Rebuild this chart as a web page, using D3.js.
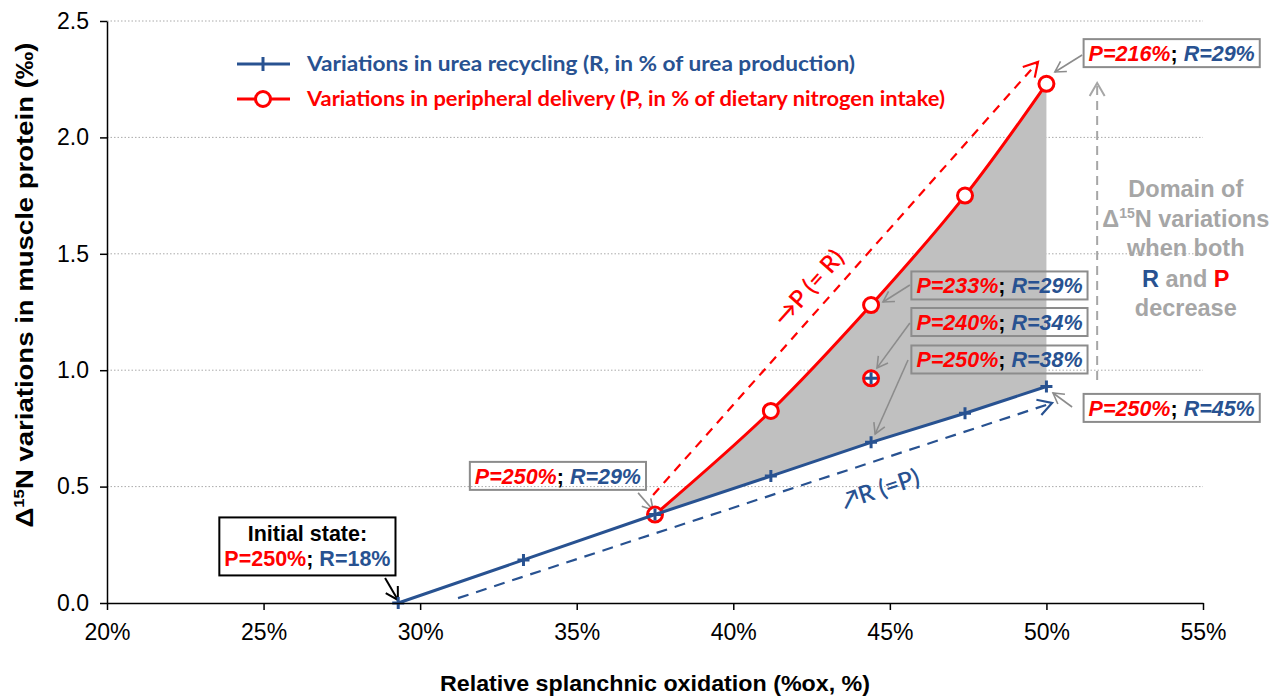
<!DOCTYPE html>
<html>
<head>
<meta charset="utf-8">
<script src="https://cdn.jsdelivr.net/npm/d3@7"></script>
<style>
  body { margin: 0; background: #fff; }
  svg { display: block; }
</style>
</head>
<body>
<svg id="chart"></svg>
<script>
// data (x: %ox, y: per mille)
const rX = [29.3, 33.3, 37.5, 41.2, 44.4, 47.4, 50.0];
const rY = [0.0, 0.185, 0.38, 0.545, 0.69, 0.815, 0.93];
const pX = [37.5, 41.2, 44.4, 47.4, 50.0];
const pY = [0.38, 0.825, 1.28, 1.75, 2.23];
const mixX = [44.4];
const mixY = [0.965];
const xTicks = [20, 25, 30, 35, 40, 45, 50, 55];
const yTicks = [0, 0.5, 1.0, 1.5, 2.0, 2.5];

// annotation labels: P value, R value, anchor (data units), arrow from -> to (data units)
const noteP = ["216%", "233%", "240%", "250%", "250%", "250%"];
const noteR = ["29%", "29%", "34%", "38%", "45%", "29%"];
const noteAt = [[54.0, 2.362], [48.5, 1.364], [48.5, 1.207], [48.5, 1.046], [54.0, 0.838], [34.4, 0.546]];
const noteFrom = [[51.14, 2.354], [45.64, 1.366], [45.64, 1.203], [45.58, 1.044], [50.82, 0.842], [36.96, 0.473]];
const noteTo = [[50.27, 2.281], [44.78, 1.293], [44.59, 1.010], [44.53, 0.726], [50.21, 0.902], [37.44, 0.399]];

const blue = "#285291";
const red = "#ff0000";
const grey = "#a6a6a6";

const width = 1282, height = 699;
const svg = d3.select("#chart").attr("width", width).attr("height", height);

const x = d3.scaleLinear().domain([20, 55]).range([107, 1203]);
const y = d3.scaleLinear().domain([0, 2.5]).range([603, 21]);

const rPts = rX.map((d, i) => [d, rY[i]]);
const pPts = pX.map((d, i) => [d, pY[i]]);

// gridlines
svg.append("g")
    .selectAll("line")
    .data(yTicks.slice(1))
    .join("line")
    .attr("x1", x(20)).attr("x2", x(55))
    .attr("y1", d => y(d)).attr("y2", d => y(d))
    .attr("stroke", "#aaa")
    .attr("stroke-width", 1)
    .attr("stroke-dasharray", "1.5,2");

// shaded domain between the two curves
const redLine = d3.line().x(d => x(d[0])).y(d => y(d[1])).curve(d3.curveCatmullRom);
const blueSeg = rPts.filter(d => d[0] >= pX[0]).reverse();
svg.append("path")
    .attr("d", redLine(pPts) + blueSeg.map(d => "L" + x(d[0]) + "," + y(d[1])).join("") + "Z")
    .attr("fill", "#c0c0c0");

// chevron arrow head
function chevron(g, x1, y1, x2, y2, color, size, sw) {
    const a = Math.atan2(y2 - y1, x2 - x1);
    const s = Math.PI / 6;
    const p1 = [x2 - size * Math.cos(a - s), y2 - size * Math.sin(a - s)];
    const p2 = [x2 - size * Math.cos(a + s), y2 - size * Math.sin(a + s)];
    g.append("path")
        .attr("d", `M${p1[0]},${p1[1]}L${x2},${y2}L${p2[0]},${p2[1]}`)
        .attr("fill", "none")
        .attr("stroke", color)
        .attr("stroke-width", sw);
}
function arrow(g, a, b, color, dash, sw, size) {
    const x1 = x(a[0]), y1 = y(a[1]), x2 = x(b[0]), y2 = y(b[1]);
    g.append("line")
        .attr("x1", x1).attr("y1", y1).attr("x2", x2).attr("y2", y2)
        .attr("stroke", color)
        .attr("stroke-width", sw)
        .attr("stroke-dasharray", dash);
    chevron(g, x1, y1, x2, y2, color, size, sw);
    return Math.atan2(y2 - y1, x2 - x1) * 180 / Math.PI;
}

const ann = svg.append("g");
// dashed trend arrows
const redAng = arrow(ann, [37.44, 0.464], [49.73, 2.324], red, "9,7", 2.2, 16);
const blueAng = arrow(ann, [31.21, 0.021], [50.18, 0.859], blue, "11,8", 2.2, 16);
arrow(ann, [51.62, 0.958], [51.62, 2.234], grey, "9,6", 2, 15);

ann.append("text")
    .attr("transform", `translate(${x(42.4)},${y(1.355)}) rotate(${redAng})`)
    .attr("text-anchor", "middle")
    .attr("dy", "0.35em")
    .attr("font-family", "Lato, 'Open Sans', sans-serif")
    .attr("font-size", 24)
    .attr("font-weight", 600)
    .attr("fill", red)
    .text("\u2192P (= R)");
ann.append("text")
    .attr("transform", `translate(${x(44.69)},${y(0.49)}) rotate(${blueAng})`)
    .attr("text-anchor", "middle")
    .attr("dy", "0.35em")
    .attr("font-family", "Lato, 'Open Sans', sans-serif")
    .attr("font-size", 24)
    .attr("font-weight", 600)
    .attr("fill", blue)
    .text("\u2197R (=P)");

// red curve and circles
svg.append("path")
    .attr("d", redLine(pPts))
    .attr("fill", "none")
    .attr("stroke", red)
    .attr("stroke-width", 3);
svg.append("g")
    .selectAll("circle")
    .data(pPts.concat(mixX.map((d, i) => [d, mixY[i]])))
    .join("circle")
    .attr("cx", d => x(d[0]))
    .attr("cy", d => y(d[1]))
    .attr("r", 7.5)
    .attr("fill", "white")
    .attr("stroke", red)
    .attr("stroke-width", 3);

// blue line and plus markers
svg.append("path")
    .attr("d", d3.line().x(d => x(d[0])).y(d => y(d[1]))(rPts))
    .attr("fill", "none")
    .attr("stroke", blue)
    .attr("stroke-width", 3);
svg.append("g")
    .selectAll("path")
    .data(rPts.concat(mixX.map((d, i) => [d, mixY[i]])))
    .join("path")
    .attr("d", d => `M${x(d[0]) - 6},${y(d[1])}h12M${x(d[0])},${y(d[1]) - 6}v12`)
    .attr("stroke", blue)
    .attr("stroke-width", 3);

// axes
const xAxis = svg.append("g")
    .attr("transform", `translate(0,${y(0)})`)
    .call(d3.axisBottom(x).tickValues(xTicks).tickFormat(d => d + "%").tickSize(7).tickSizeOuter(0));
const yAxis = svg.append("g")
    .attr("transform", `translate(${x(20)},0)`)
    .call(d3.axisLeft(y).tickValues(yTicks).tickFormat(d3.format(".1f")).tickSize(7).tickSizeOuter(0));
[xAxis, yAxis].forEach(g => {
    g.select(".domain").attr("stroke", "#000").attr("stroke-width", 1.5);
    g.selectAll(".tick line").attr("stroke", "#000").attr("stroke-width", 1.5);
    g.selectAll(".tick text")
        .attr("font-family", "'Liberation Sans', Arial, sans-serif")
        .attr("font-size", 23)
        .attr("fill", "#000");
});
xAxis.selectAll(".tick text").attr("y", 37).attr("dy", 0);
yAxis.selectAll(".tick text").attr("x", -18);

// axis titles
svg.append("text")
    .attr("x", 655).attr("y", 691)
    .attr("text-anchor", "middle")
    .attr("font-family", "'Liberation Sans', Arial, sans-serif")
    .attr("font-weight", "bold")
    .attr("font-size", 22)
    .attr("textLength", 430)
    .attr("lengthAdjust", "spacingAndGlyphs")
    .text("Relative splanchnic oxidation (%ox, %)");
const yt = svg.append("text")
    .attr("transform", "translate(33,285) rotate(-90)")
    .attr("text-anchor", "middle")
    .attr("font-family", "'Liberation Sans', Arial, sans-serif")
    .attr("font-weight", "bold")
    .attr("font-size", 23)
    .attr("textLength", 485)
    .attr("lengthAdjust", "spacingAndGlyphs");
yt.append("tspan").text("\u0394");
yt.append("tspan").attr("font-size", 14).attr("dy", -9).text("15");
yt.append("tspan").attr("dy", 9).text("N variations in muscle protein (\u2030)");

// legend
const legend = svg.append("g");
const legRows = [
    {c: blue, t: "Variations in urea recycling (R, in % of urea production)", len: 548},
    {c: red, t: "Variations in peripheral delivery (P, in % of dietary nitrogen intake)", len: 638}
];
legRows.forEach((r, i) => {
    const ly = 64 + i * 35;
    legend.append("line")
        .attr("x1", 237).attr("x2", 290).attr("y1", ly).attr("y2", ly)
        .attr("stroke", r.c).attr("stroke-width", 3);
    if (i === 0) {
        legend.append("line")
            .attr("x1", 263).attr("x2", 263).attr("y1", ly - 7).attr("y2", ly + 7)
            .attr("stroke", r.c).attr("stroke-width", 3);
    } else {
        legend.append("circle")
            .attr("cx", 263).attr("cy", ly).attr("r", 7.5)
            .attr("fill", "white").attr("stroke", r.c).attr("stroke-width", 3);
    }
    legend.append("text")
        .attr("x", 307).attr("y", ly).attr("dy", "0.35em")
        .attr("font-family", "Lato, 'Open Sans', sans-serif")
        .attr("font-weight", "bold")
        .attr("font-size", 21)
        .attr("textLength", r.len)
        .attr("lengthAdjust", "spacingAndGlyphs")
        .attr("fill", r.c)
        .text(r.t);
});

// value boxes
noteP.forEach((p, i) => {
    const g = ann.append("g");
    const t = g.append("text")
        .attr("x", x(noteAt[i][0])).attr("y", y(noteAt[i][1])).attr("dy", "0.36em")
        .attr("text-anchor", "middle")
        .attr("font-family", "'Liberation Sans', Arial, sans-serif")
        .attr("font-weight", "bold")
        .attr("font-size", 21.5);
    t.append("tspan").attr("fill", red).attr("font-style", "italic").text("P=" + p);
    t.append("tspan").attr("fill", "#000").text("; ");
    t.append("tspan").attr("fill", blue).attr("font-style", "italic").text("R=" + noteR[i]);
    const bb = t.node().getBBox();
    g.insert("rect", "text")
        .attr("x", bb.x - 5).attr("y", y(noteAt[i][1]) - 14)
        .attr("width", bb.width + 10).attr("height", 28)
        .attr("fill", "none").attr("stroke", "#8c8c8c").attr("stroke-width", 2);
    arrow(ann, noteFrom[i], noteTo[i], "#8c8c8c", null, 1.6, 12);
});

// initial state box
const init = ann.append("g");
const ix = x(26.4), iy = y(0.243);
init.append("text")
    .attr("x", ix).attr("y", iy - 5)
    .attr("text-anchor", "middle")
    .attr("font-family", "'Liberation Sans', Arial, sans-serif")
    .attr("font-weight", "bold")
    .attr("font-size", 21.5)
    .text("Initial state:");
const it2 = init.append("text")
    .attr("x", ix).attr("y", iy + 20)
    .attr("text-anchor", "middle")
    .attr("font-family", "'Liberation Sans', Arial, sans-serif")
    .attr("font-weight", "bold")
    .attr("font-size", 21.5);
it2.append("tspan").attr("fill", red).text("P=250%");
it2.append("tspan").attr("fill", "#000").text("; ");
it2.append("tspan").attr("fill", blue).text("R=18%");
const ibb = it2.node().getBBox();
init.insert("rect", "text")
    .attr("x", ibb.x - 5).attr("y", iy - 29)
    .attr("width", ibb.width + 10).attr("height", 58)
    .attr("fill", "white").attr("stroke", "#000").attr("stroke-width", 2);
arrow(ann, [28.88, 0.107], [29.29, 0.013], "#000", null, 2, 14);

// domain note
const dom = ann.append("text")
    .attr("text-anchor", "middle")
    .attr("font-family", "'Liberation Sans', Arial, sans-serif")
    .attr("font-weight", "bold")
    .attr("font-size", 23.5)
    .attr("fill", grey);
const domX = x(54.45);
dom.append("tspan").attr("x", domX).attr("y", 197).text("Domain of");
const l2 = dom.append("tspan").attr("x", domX).attr("y", 227);
l2.append("tspan").text("\u0394");
l2.append("tspan").attr("font-size", 14).attr("dy", -9).text("15");
l2.append("tspan").attr("dy", 9).text("N variations");
dom.append("tspan").attr("x", domX).attr("y", 256).text("when both");
const l4 = dom.append("tspan").attr("x", domX).attr("y", 287);
l4.append("tspan").attr("fill", blue).text("R");
l4.append("tspan").text(" and ");
l4.append("tspan").attr("fill", red).text("P");
dom.append("tspan").attr("x", domX).attr("y", 316).text("decrease");
</script>
</body>
</html>
